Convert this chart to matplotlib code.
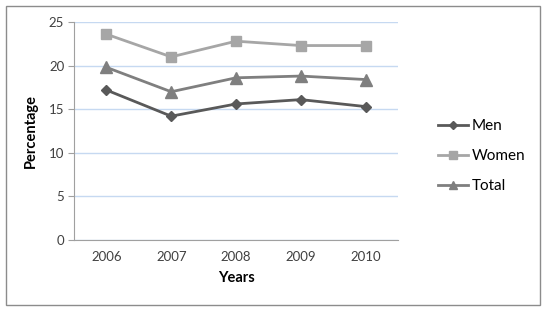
import matplotlib
matplotlib.use("Agg")
import matplotlib.pyplot as plt
from matplotlib.patches import Rectangle

years = ["2006", "2007", "2008", "2009", "2010"]
men = [17.2, 14.2, 15.6, 16.1, 15.3]
women = [23.6, 21.0, 22.8, 22.3, 22.3]
total = [19.8, 17.0, 18.6, 18.8, 18.4]
yticks = [0, 5, 10, 15, 20, 25]

plt.rcParams['font.family'] = ['Lato', 'DejaVu Sans']

fig = plt.figure(figsize=(5.47, 3.11), dpi=100)
fig.patches.append(Rectangle((6/547, 1-305/311), (540-6)/547, (305-6)/311,
                             transform=fig.transFigure, fill=False,
                             edgecolor='#8c8c8c', linewidth=1.0))
ax = fig.add_axes([74/547, 1-240/311, (398-74)/547, (240-22)/311])

x = list(range(len(years)))
ax.plot(x, men, color='#595959', marker='D', markersize=5, linewidth=2, label='Men')
ax.plot(x, women, color='#a6a6a6', marker='s', markersize=7, linewidth=2, label='Women')
ax.plot(x, total, color='#7f7f7f', marker='^', markersize=8, linewidth=2, label='Total')

ax.set_xlim(-0.5, len(years) - 0.5)
ax.set_ylim(0, 25)
ax.set_yticks(yticks)
ax.set_xticks(x)
ax.set_xticklabels(years)
ax.yaxis.grid(True, color='#c6d9f1', linewidth=1)
ax.set_axisbelow(True)
for s in ['top', 'right']:
    ax.spines[s].set_visible(False)
for s in ['left', 'bottom']:
    ax.spines[s].set_color('#a0a0a0')
ax.tick_params(axis='y', length=4, color='#a0a0a0', labelsize=9.5, pad=3, labelcolor='#404040')
ax.tick_params(axis='x', length=0, labelsize=9.5, pad=8, labelcolor='#404040')
ax.set_xlabel('Years', fontsize=10.5, fontweight='bold', labelpad=6)
ax.set_ylabel('Percentage', fontsize=10.5, fontweight='bold', labelpad=8)

leg = ax.legend(loc='center left', bbox_to_anchor=(424/547, 1-156/311),
                bbox_transform=fig.transFigure, frameon=False,
                fontsize=11, handlelength=2.0, labelspacing=1.05, handletextpad=0.2,
                markerscale=0.8)

fig.savefig('out.png', dpi=100)
